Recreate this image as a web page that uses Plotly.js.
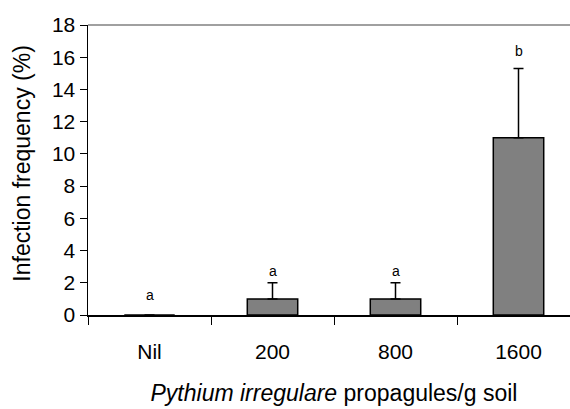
<!DOCTYPE html>
<html>
<head>
<meta charset="utf-8">
<script src="https://cdn.plot.ly/plotly-3.0.1.min.js"></script>
<style>
  html, body { margin: 0; padding: 0; overflow: hidden; background: #fff; }
  #chart { width: 580px; height: 409px; }
</style>
</head>
<body>
<div id="chart"></div>
<script>
// Infection frequency by inoculum density (mean + SE)
const categories = ["Nil", "200", "800", "1600"];
const meanInfection = [0, 1, 1, 11];
const seInfection = [0, 1, 1, 4.3];
const groupLetters = ["a", "a", "a", "b"];
const letterShift = [10, 2, 2, 8];
const yTicks = [0, 2, 4, 6, 8, 10, 12, 14, 16, 18];

const font = "Liberation Sans, Arial, sans-serif";

const bars = {
  type: "bar",
  x: categories,
  y: meanInfection,
  width: 0.41,
  marker: { color: "#808080", line: { color: "#000", width: 1.5 } },
  error_y: {
    type: "data",
    symmetric: false,
    array: seInfection,
    arrayminus: seInfection.map(() => 0),
    color: "#000",
    thickness: 1.5,
    width: 5
  },
  hoverinfo: "none"
};

// significance letters sit just above each error bar (category index positions)
const letters = categories.map((c, i) => ({
  x: i,
  y: meanInfection[i] + seInfection[i],
  xref: "x",
  yref: "y",
  text: groupLetters[i],
  showarrow: false,
  yanchor: "bottom",
  yshift: letterShift[i],
  font: { family: font, size: 14, color: "#000" }
}));

const layout = {
  width: 580,
  height: 409,
  margin: { l: 88, r: 0, t: 25, b: 94 },
  paper_bgcolor: "#fff",
  plot_bgcolor: "#fff",
  showlegend: false,
  font: { family: font, color: "#000" },
  xaxis: {
    type: "category",
    range: [-0.5, 3.5],
    tickson: "boundaries",
    ticks: "outside",
    ticklen: 8,
    tickwidth: 1,
    tickcolor: "#000",
    ticklabelstandoff: 17,
    showline: true,
    linecolor: "#000",
    linewidth: 1.5,
    showgrid: false,
    tickfont: { family: font, size: 21 },
    title: {
      text: "<i>Pythium irregulare</i> propagules/g soil",
      font: { family: font, size: 23 },
      standoff: 23
    }
  },
  yaxis: {
    range: [0, 18],
    tickvals: yTicks,
    ticks: "outside",
    ticklen: 7,
    tickwidth: 1,
    tickcolor: "#000",
    showline: true,
    linecolor: "#000",
    linewidth: 1.5,
    showgrid: false,
    zeroline: false,
    tickfont: { family: font, size: 21 }
  },
  shapes: [{
    type: "line", xref: "paper", yref: "paper",
    x0: 0, x1: 1, y0: 1, y1: 1,
    line: { color: "#808080", width: 1.5 }
  }],
  annotations: letters.concat([{
    xref: "paper", yref: "paper",
    x: -0.134, y: 0.522,
    xanchor: "center", yanchor: "middle",
    text: "Infection frequency (%)",
    textangle: -90,
    showarrow: false,
    font: { family: font, size: 23, color: "#000" }
  }])
};

Plotly.newPlot("chart", [bars], layout, { staticPlot: true, displayModeBar: false });
</script>
</body>
</html>
